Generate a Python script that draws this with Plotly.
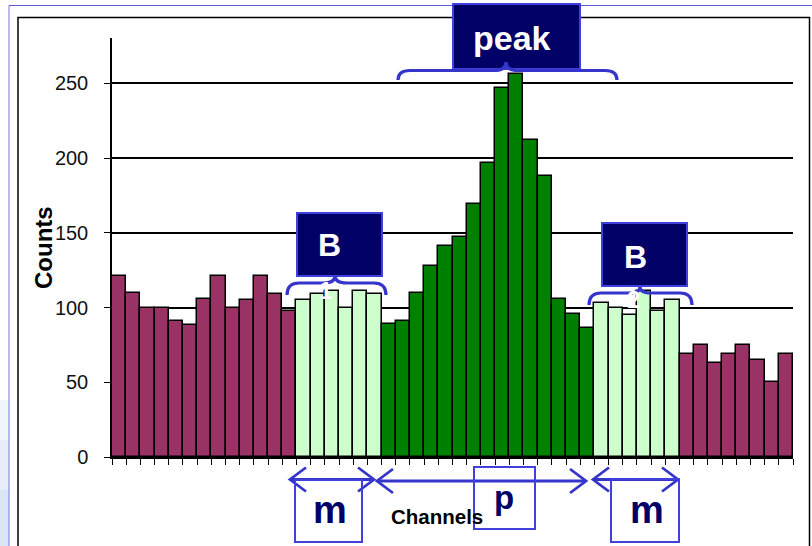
import plotly.graph_objects as go

# ---- data (counts per channel) ----
left_background = [121, 110, 100, 100, 91, 88, 106, 121, 100, 105, 121, 109, 98]
left_m_region = [105, 109, 111, 100, 111, 109]
peak_region = [89, 91, 110, 128, 141, 147, 169, 197, 247, 256, 212, 188, 106, 96, 86]
right_m_region = [103, 100, 95, 111, 98, 105]
right_background = [69, 75, 63, 69, 75, 65, 50, 69]

y_tick_values = [0, 50, 100, 150, 200, 250]
y_tick_labels = ["0", "50", "100", "150", "200", "250"]

MAROON = "#993366"
DARK_GREEN = "#008000"
LIGHT_GREEN = "#CCFFCC"
NAVY = "#000066"
BLUE = "#3535CC"
BOX_EDGE = "#4040DD"

groups = [
    (left_background, MAROON),
    (left_m_region, LIGHT_GREEN),
    (peak_region, DARK_GREEN),
    (right_m_region, LIGHT_GREEN),
    (right_background, MAROON),
]
counts = []
colors = []
for vals, col in groups:
    counts += vals
    colors += [col] * len(vals)
channels = list(range(len(counts)))

# ---- figure geometry (pixels) ----
W, H = 812, 546
PL, PR, PT, PB = 112, 793, 38, 457


def xp(x):
    return (x - PL) / (PR - PL)


def yp(y):
    return (PB - y) / (PB - PT)


fig = go.Figure()
fig.add_trace(go.Bar(
    x=channels, y=counts,
    marker=dict(color=colors, line=dict(color="black", width=1.5)),
    width=1.0, showlegend=False, hoverinfo="x+y",
))

SANS = "Liberation Sans, Arial, sans-serif"

fig.update_layout(
    width=W, height=H,
    margin=dict(l=PL, r=W - PR, t=PT, b=H - PB, pad=0),
    paper_bgcolor="white", plot_bgcolor="white",
    bargap=0,
    xaxis=dict(
        range=[-0.5, len(counts) - 0.5],
        showgrid=False, zeroline=False,
        showline=True, linecolor="black", linewidth=2,
        ticks="outside", ticklen=6, tickwidth=1.2, tickcolor="black",
        tickmode="array", tickvals=[c - 0.5 for c in channels] + [len(counts) - 0.5],
        showticklabels=False, fixedrange=True,
    ),
    yaxis=dict(
        range=[0, (PB - PT) / 1.4947],
        showgrid=True, gridcolor="black", gridwidth=1.5,
        zeroline=False,
        showline=True, linecolor="black", linewidth=1.5,
        ticks="outside", ticklen=6, tickwidth=1.2, tickcolor="black",
        tickmode="array", tickvals=y_tick_values, ticktext=y_tick_labels,
        tickfont=dict(family=SANS, size=20, color="#111111"),
        ticklabelstandoff=12, fixedrange=True,
    ),
)

shapes = []
# slide decoration: light gradient on the left edge, thin blue border, black frame
for y0, col in [(400, "#F1F5FC"), (440, "#E6EEFA"), (490, "#DAE6F8")]:
    shapes.append(dict(type="rect", xref="paper", yref="paper",
                       x0=xp(0), x1=xp(9), y0=yp(546), y1=yp(y0),
                       fillcolor=col, line=dict(width=0), layer="below"))
shapes.append(dict(type="line", xref="paper", yref="paper",
                   x0=xp(9), x1=xp(812), y0=yp(5.5), y1=yp(5.5),
                   line=dict(color="#5A5AD8", width=1)))
shapes.append(dict(type="line", xref="paper", yref="paper",
                   x0=xp(9), x1=xp(9), y0=yp(5.5), y1=yp(546),
                   line=dict(color="#8C8CE6", width=1.2)))
shapes.append(dict(type="rect", xref="paper", yref="paper",
                   x0=xp(18), x1=xp(809.5), y0=yp(17.5), y1=yp(560),
                   line=dict(color="black", width=1.5), fillcolor="rgba(0,0,0,0)"))


def box(x0, y0, x1, y1, fill, edge, width):
    return dict(type="rect", xref="paper", yref="paper",
                x0=xp(x0), x1=xp(x1), y0=yp(y1), y1=yp(y0),
                fillcolor=fill, line=dict(color=edge, width=width))


def brace(x1, x2, xc, y_end, y_mid, y_tip, r=12):
    pts = [
        ("M", [(x1, y_end)]),
        ("Q", [(x1, y_mid), (x1 + r, y_mid)]),
        ("L", [(xc - r, y_mid)]),
        ("Q", [(xc, y_mid), (xc, y_tip)]),
        ("Q", [(xc, y_mid), (xc + r, y_mid)]),
        ("L", [(x2 - r, y_mid)]),
        ("Q", [(x2, y_mid), (x2, y_end)]),
    ]
    path = " ".join(cmd + " " + " ".join(f"{xp(a):.5f},{yp(b):.5f}" for a, b in p)
                    for cmd, p in pts)
    return dict(type="path", xref="paper", yref="paper", path=path,
                line=dict(color=BLUE, width=3.2))


def double_arrow(x1, x2, y, dx=16, dy=12):
    out = [dict(type="line", xref="paper", yref="paper",
                x0=xp(x1), x1=xp(x2), y0=yp(y), y1=yp(y),
                line=dict(color=BLUE, width=2.8))]
    for tip, s in ((x1, 1), (x2, -1)):
        path = (f"M {xp(tip + s * dx):.5f},{yp(y - dy):.5f} "
                f"L {xp(tip):.5f},{yp(y):.5f} "
                f"L {xp(tip + s * dx):.5f},{yp(y + dy):.5f}")
        out.append(dict(type="path", xref="paper", yref="paper", path=path,
                        line=dict(color=BLUE, width=2.8)))
    return out


# navy label boxes
shapes.append(box(453, 4, 580, 69, NAVY, BOX_EDGE, 2))
shapes.append(box(297, 213, 382, 276, NAVY, BOX_EDGE, 2))
shapes.append(box(602, 223, 687, 286, NAVY, BOX_EDGE, 2))
# braces
shapes.append(brace(398, 617, 506, 80, 70.5, 62))
shapes.append(brace(287, 386, 335, 295, 283, 276))
shapes.append(brace(589, 692, 640, 305, 293, 287))
# bottom range arrows and boxes
shapes += double_arrow(290, 374, 479.5)
shapes += double_arrow(377, 586, 481)
shapes += double_arrow(593, 678, 479.5)
shapes.append(box(295, 480, 362, 542, "rgba(0,0,0,0)", BOX_EDGE, 2))
shapes.append(box(474, 467, 535, 529, "rgba(0,0,0,0)", BOX_EDGE, 2))
shapes.append(box(611, 479, 679, 542, "rgba(0,0,0,0)", BOX_EDGE, 2))

fig.update_layout(shapes=shapes)


def label(text, x, y, size, color, family=SANS, angle=0):
    return dict(text=text, xref="paper", yref="paper", x=xp(x), y=yp(y),
                xanchor="center", yanchor="middle", showarrow=False,
                textangle=angle, font=dict(family=family, size=size, color=color))


annotations = [
    label("<b>peak</b>", 512, 38, 34, "white"),
    label("<b>B</b>", 329, 245, 32, "white"),
    label("<b>B</b>", 635, 257, 32, "white"),
    label("<b>1</b>", 325, 290, 24, "white"),
    label("<b>2</b>", 633, 299, 24, "white"),
    label("<b>m</b>", 330, 510, 38, NAVY),
    label("<b>m</b>", 647, 510, 38, NAVY),
    label("<b>p</b>", 504, 498, 33, NAVY),
    label("<b>Channels</b>", 436.5, 516, 20.5, "black"),
    label("<b>Counts</b>", 43, 248, 24, "black", angle=-90),
]
fig.update_layout(annotations=annotations)

fig.write_html(
    "out.html",
    config={"displayModeBar": False},
    post_script="document.body.style.margin='0';document.body.style.overflow='hidden';",
)
